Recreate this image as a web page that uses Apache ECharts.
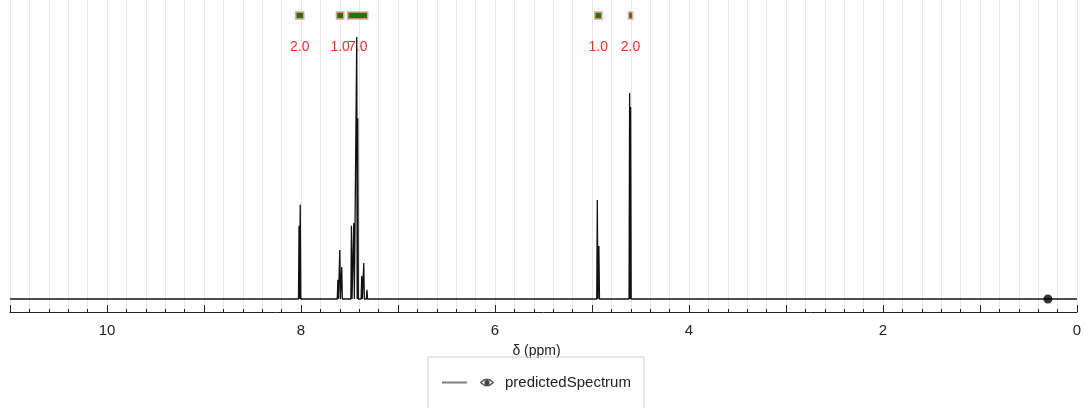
<!DOCTYPE html>
<html>
<head>
<meta charset="utf-8">
<script src="https://cdn.jsdelivr.net/npm/echarts@6/dist/echarts.min.js"></script>
<style>
html,body{margin:0;padding:0;background:#fff;}
#c{width:1085px;height:408px;}
</style>
</head>
<body>
<div id="c"></div>
<script>
// ---- data ----
const seriesName = 'predictedSpectrum';
const ppmRange = [0, 11];
// peak positions (ppm) and relative intensities (tallest = 1)
const peakPpm    = [8.020, 8.008, 7.620, 7.600, 7.580, 7.480, 7.456, 7.425, 7.415, 7.374, 7.353, 7.320, 4.945, 4.929, 4.612, 4.602];
const peakHeight = [0.280, 0.360, 0.073, 0.187, 0.122, 0.280, 0.290, 1.000, 0.690, 0.088, 0.137, 0.035, 0.378, 0.202, 0.786, 0.733];
// integration ranges (ppm) and their values
const integFrom  = [8.054, 7.634, 7.518, 4.971, 4.623];
const integTo    = [7.971, 7.559, 7.312, 4.898, 4.582];
const integValue = ['2.0', '1.0', '7.0', '1.0', '2.0'];
// reference marker
const markerPoint = [[0.30, 0]];
const xTickLabels = [0, 2, 4, 6, 8, 10];

const FONT = 'Arial, "Liberation Sans", sans-serif';

// build the line from the peak list (baseline – top – baseline for each line)
const hw = 0.006;
let pts = [[ppmRange[1], 0], [ppmRange[0], 0]];
for (let i = 0; i < peakPpm.length; i++) {
  pts.push([peakPpm[i] + hw, 0]);
  pts.push([peakPpm[i], peakHeight[i]]);
  pts.push([peakPpm[i] - hw, 0]);
}
pts.sort((a, b) => b[0] - a[0]);

const integData = integFrom.map((f, i) => [f, integTo[i], integValue[i]]);

const eyeSvg = "<svg xmlns='http://www.w3.org/2000/svg' width='14' height='10' viewBox='0 0 14 10'>" +
  "<path d='M0.8 5 Q7 -1.5 13.2 5 Q7 11.5 0.8 5 Z' fill='none' stroke='#555' stroke-width='1.4'/>" +
  "<circle cx='7' cy='5' r='2.6' fill='#444'/></svg>";
const eyeUrl = 'data:image/svg+xml;charset=utf-8,' + encodeURIComponent(eyeSvg);

const chart = echarts.init(document.getElementById('c'), null, {renderer: 'canvas'});
chart.setOption({
  animation: false,
  backgroundColor: '#fff',
  grid: {left: 10, right: 8, top: 0, bottom: 96, containLabel: false},
  xAxis: {
    type: 'value', inverse: true, min: ppmRange[0], max: ppmRange[1], interval: 1,
    name: 'δ (ppm)', nameLocation: 'middle', nameGap: 32,
    nameTextStyle: {fontFamily: FONT, fontSize: 14, color: '#222', padding: [0, 14, 0, 0]},
    axisLine: {show: true, onZero: false, lineStyle: {color: '#222', width: 1}},
    axisTick: {show: true, inside: true, length: 7, lineStyle: {color: '#222'}},
    minorTick: {show: true, splitNumber: 5, length: 3, lineStyle: {color: '#222'}},
    splitLine: {show: true, lineStyle: {color: '#e8e8e8', width: 1}},
    minorSplitLine: {show: true, lineStyle: {color: '#e8e8e8', width: 1}},
    axisLabel: {
      fontFamily: FONT, fontSize: 15, color: '#222', margin: 11,
      formatter: v => xTickLabels.indexOf(v) >= 0 ? String(v) : ''
    }
  },
  yAxis: {
    type: 'value', min: -0.0496, max: 1.1412, show: false,
    splitLine: {show: false}
  },
  legend: {
    data: [{name: seriesName, icon: 'rect'}],
    left: 428, top: 357,
    padding: [18, 13, 40, 14],
    borderColor: '#d0d0d0', borderWidth: 1,
    itemWidth: 25, itemHeight: 2,
    itemStyle: {color: '#808080', borderWidth: 0},
    textStyle: {fontFamily: FONT, fontSize: 15, color: '#222',
      rich: {
        sp: {width: 8},
        eye: {width: 14, height: 10, backgroundColor: {image: eyeUrl}},
        sp2: {width: 11}
      }
    },
    formatter: name => '{sp|}{eye|}{sp2|}' + name
  },
  series: [
    {
      name: seriesName, type: 'line', data: pts, symbol: 'none',
      itemStyle: {color: '#111'},
      lineStyle: {color: '#111', width: 1.3}, clip: true, z: 3
    },
    {
      name: 'marker', type: 'scatter', data: markerPoint, symbolSize: 9,
      itemStyle: {color: '#000'}, z: 4
    },
    {
      name: 'integrals', type: 'custom', data: integData, z: 5,
      encode: {x: [0, 1]},
      renderItem: (params, api) => {
        const a = api.coord([api.value(0), 0]);
        const b = api.coord([api.value(1), 0]);
        const x0 = Math.min(a[0], b[0]), w = Math.abs(a[0] - b[0]);
        return {
          type: 'group',
          children: [
            {type: 'rect', shape: {x: x0, y: 12, width: w, height: 7},
             style: {fill: '#107c10', stroke: '#ff9a9a', lineWidth: 1.5}},
            {type: 'text', x: x0 + w / 2, y: 47,
             style: {text: integData[params.dataIndex][2], fill: '#ff2a2a',
               font: '14px ' + FONT, align: 'center', verticalAlign: 'middle'}}
          ]
        };
      }
    }
  ]
});
</script>
</body>
</html>
